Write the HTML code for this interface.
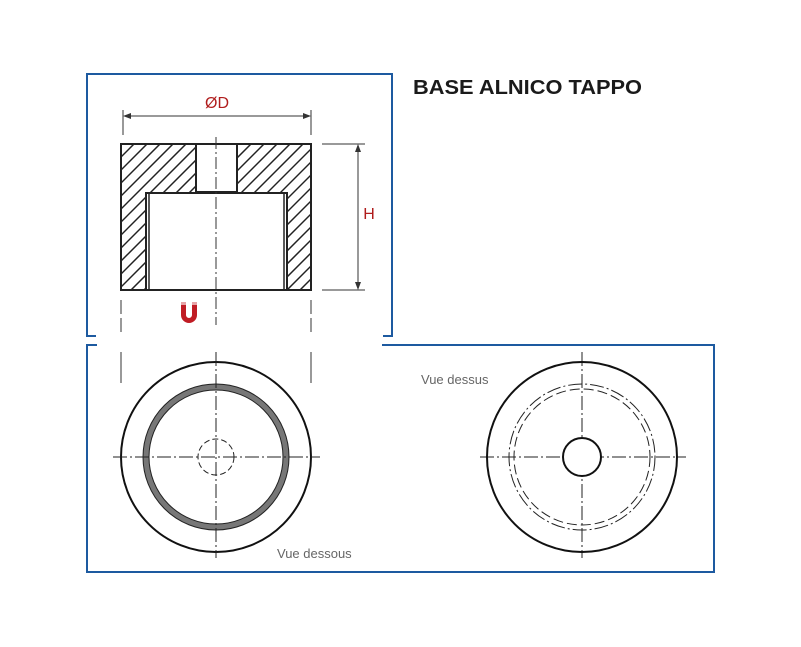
<!DOCTYPE html>
<html><head><style>body{margin:0;background:#fff}svg{display:block}</style></head><body>
<svg width="801" height="647" xmlns="http://www.w3.org/2000/svg" font-family="Liberation Sans, sans-serif">
<defs>
<clipPath id="c"><rect x="121" y="144" width="190" height="146"/></clipPath>
</defs>
<g fill="none" stroke="#1d5aa0" stroke-width="2">
<path d="M96 336 H87 V74 H392 V336 H383"/>
<path d="M97 345 H87 V572 H714 V345 H382"/>
</g>
<text x="413" y="94" font-size="20" font-weight="bold" fill="#1a1a1a" textLength="229" lengthAdjust="spacingAndGlyphs">BASE ALNICO TAPPO</text>
<g clip-path="url(#c)" stroke="#222" stroke-width="1.5">
<path d="M-25 290L121 144M-12 290L134 144M1 290L147 144M14 290L160 144M27 290L173 144M40 290L186 144M53 290L199 144M66 290L212 144M79 290L225 144M92 290L238 144M105 290L251 144M118 290L264 144M131 290L277 144M144 290L290 144M157 290L303 144M170 290L316 144M183 290L329 144M196 290L342 144M209 290L355 144M222 290L368 144M235 290L381 144M248 290L394 144M261 290L407 144M274 290L420 144M287 290L433 144M300 290L446 144M313 290L459 144"/>
</g>
<rect x="121" y="144" width="190" height="146" fill="none" stroke="#222" stroke-width="2"/>
<rect x="196" y="144" width="41" height="48" fill="#fff" stroke="#222" stroke-width="2"/>
<rect x="146" y="193" width="141" height="97" fill="#fff" stroke="#222" stroke-width="2"/>
<line x1="149" y1="193" x2="149" y2="290" stroke="#222" stroke-width="1.5"/>
<line x1="284" y1="193" x2="284" y2="290" stroke="#222" stroke-width="1.5"/>
<g stroke="#333" stroke-width="1">
<line x1="216" y1="137" x2="216" y2="325" stroke-dasharray="12,3,2,3"/>
<line x1="123" y1="110" x2="123" y2="135"/>
<line x1="311" y1="110" x2="311" y2="135"/>
<line x1="126" y1="116" x2="308" y2="116"/>
<line x1="322" y1="144" x2="365" y2="144"/>
<line x1="322" y1="290" x2="365" y2="290"/>
<line x1="358" y1="147" x2="358" y2="287"/>
<line x1="121" y1="300" x2="121" y2="333" stroke-dasharray="14,4"/>
<line x1="311" y1="300" x2="311" y2="333" stroke-dasharray="14,4"/>
<line x1="121" y1="352" x2="121" y2="383"/>
<line x1="311" y1="352" x2="311" y2="383"/>
</g>
<g fill="#333">
<path d="M123 116 l8 -3 v6z"/><path d="M311 116 l-8 -3 v6z"/>
<path d="M358 144 l-3 8 h6z"/><path d="M358 290 l-3 -8 h6z"/>
</g>
<text x="217" y="108" font-size="16" fill="#b01c1c" text-anchor="middle">ØD</text>
<text x="369" y="219" font-size="16" fill="#b01c1c" text-anchor="middle">H</text>
<path d="M181 302 v13 a8 8 0 0 0 16 0 v-13 h-5 v13 a3 3 0 0 1 -6 0 v-13z" fill="#c01c24"/>
<rect x="181" y="302" width="5" height="3" fill="#fff" opacity="0.6"/><rect x="192" y="302" width="5" height="3" fill="#fff" opacity="0.6"/>
<circle cx="216" cy="457" r="95" fill="none" stroke="#111" stroke-width="2"/>
<circle cx="216" cy="457" r="70" fill="none" stroke="#222" stroke-width="7"/>
<circle cx="216" cy="457" r="70" fill="none" stroke="#777" stroke-width="5"/>
<circle cx="216" cy="457" r="18" fill="none" stroke="#222" stroke-width="1" stroke-dasharray="6,3"/>
<g stroke="#222" stroke-width="1" stroke-dasharray="14,3,2,3">
<line x1="113" y1="457" x2="320" y2="457"/>
<line x1="216" y1="352" x2="216" y2="558"/>
<line x1="480" y1="457" x2="686" y2="457"/>
<line x1="582" y1="352" x2="582" y2="558"/>
</g>
<circle cx="582" cy="457" r="95" fill="none" stroke="#111" stroke-width="2"/>
<circle cx="582" cy="457" r="73" fill="none" stroke="#222" stroke-width="1" stroke-dasharray="14,3,2,3"/>
<circle cx="582" cy="457" r="68" fill="none" stroke="#222" stroke-width="1" stroke-dasharray="10,4"/>
<circle cx="582" cy="457" r="19" fill="#fff" stroke="#111" stroke-width="2"/>
<text x="421" y="384" font-size="13" fill="#666">Vue dessus</text>
<text x="277" y="558" font-size="13" fill="#666">Vue dessous</text>
</svg>
</body></html>
